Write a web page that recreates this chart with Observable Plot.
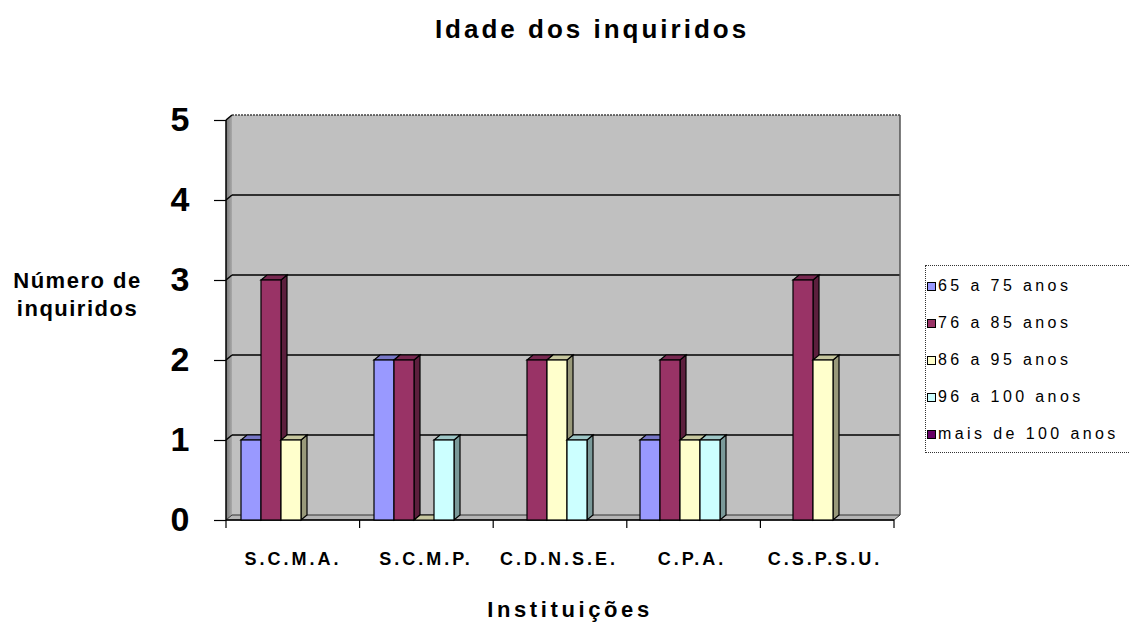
<!DOCTYPE html>
<html><head><meta charset="utf-8">
<script src="https://cdn.jsdelivr.net/npm/d3@7"></script>
<script src="https://cdn.jsdelivr.net/npm/@observablehq/plot@0.6"></script>
<style>
body{margin:0;background:#fff;font-family:"Liberation Sans",Arial,sans-serif;}
#wrap{position:relative;width:1129px;height:628px;overflow:hidden;background:#fff;}
#chart{position:absolute;left:0;top:0;}
.t{position:absolute;white-space:pre;color:#000;}
#title{left:592px;top:16px;transform:translateX(-50%);font-size:26px;line-height:26px;font-weight:bold;letter-spacing:3px;}
#xlabel{left:570px;top:599px;transform:translateX(-50%);font-size:22px;line-height:22px;font-weight:bold;letter-spacing:3.6px;}
#ylabel{left:7px;top:267px;width:141px;text-align:center;font-size:22px;line-height:28px;font-weight:bold;letter-spacing:1.5px;}
#legend{position:absolute;left:925px;top:265px;width:230px;height:188px;box-sizing:border-box;border:1px dotted #333;}
.li{position:absolute;left:0;height:16px;}
.sw{position:absolute;left:1px;width:7px;height:7px;border:1px solid #000;}
.lt{position:absolute;left:12px;font-size:16px;line-height:16px;letter-spacing:3.4px;white-space:pre;}
#chart g[aria-label="fx-axis tick label"] text{letter-spacing:3px;}
</style></head>
<body><div id="wrap">
<div id="chart"></div>
<div class="t" id="title">Idade dos inquiridos</div>
<div class="t" id="ylabel">Número de
inquiridos</div>
<div class="t" id="xlabel">Instituições</div>
<div id="legend"></div>
</div>
<script>
const institutions = ["S.C.M.A.", "S.C.M.P.", "C.D.N.S.E.", "C.P.A.", "C.S.P.S.U."];
const series = ["65 a 75 anos", "76 a 85 anos", "86 a 95 anos", "96 a 100 anos", "mais de 100 anos"];
const colors = ["#9999ff", "#993366", "#ffffcc", "#ccffff", "#660066"];
const v65to75 = [1, 2, null, 1, null];
const v76to85 = [3, 2, 2, 2, 3];
const v86to95 = [1, 0, 2, 1, 2];
const v96to100 = [null, 1, 1, 1, null];
const vOver100 = [null, null, null, null, null];
const yTicks = [0, 1, 2, 3, 4, 5];

const seriesValues = [v65to75, v76to85, v86to95, v96to100, vOver100];
const data = [];
institutions.forEach((inst, i) => {
  series.forEach((s, j) => {
    const v = seriesValues[j][i];
    if (v != null) data.push({inst, series: s, value: v});
  });
});

const W = 1129, H = 628, ML = 224, MR = 237, MT = 120, MB = 108;
const DX = 6, DY = -5;
const shade = (c, k) => { const o = d3.rgb(c); return d3.rgb(o.r * k, o.g * k, o.b * k).formatHex(); };
const NS = "http://www.w3.org/2000/svg";
function el(tag, attrs) {
  const e = document.createElementNS(NS, tag);
  for (const k in attrs) if (attrs[k] != null) e.setAttribute(k, attrs[k]);
  return e;
}

function drawBackground(index, scales, values, dims) {
  const y = scales.y;
  const step = (W - ML - MR) / institutions.length;
  const bounds = institutions.map((d, i) => ML + i * step);
  bounds.push(W - MR);
  const L = bounds[0], R = bounds[bounds.length - 1];
  const y0 = y(0), y5 = y(5);
  const g = el("g", {});
  const defs = el("defs", {});
  const grad = el("linearGradient", {id: "lw", x1: "0", x2: "1", y1: "0", y2: "0"});
  grad.appendChild(el("stop", {offset: "0", "stop-color": "#7a7a7a"}));
  grad.appendChild(el("stop", {offset: "1", "stop-color": "#a8a8a8"}));
  defs.appendChild(grad);
  g.appendChild(defs);
  g.appendChild(el("rect", {x: L + DX, y: y5 + DY, width: R - L, height: y0 - y5, fill: "#c0c0c0"}));
  g.appendChild(el("polygon", {points: `${L},${y5} ${L + DX},${y5 + DY} ${L + DX},${y0 + DY} ${L},${y0}`, fill: "url(#lw)"}));
  g.appendChild(el("polygon", {points: `${L},${y0} ${R},${y0} ${R + DX},${y0 + DY} ${L + DX},${y0 + DY}`, fill: "#b4b4b4", stroke: "#333", "stroke-width": 1}));
  for (const v of yTicks.slice(1)) {
    const yy = y(v);
    g.appendChild(el("line", {x1: L + DX, x2: R + DX, y1: yy + DY, y2: yy + DY, stroke: v === 5 ? "#444" : "#000", "stroke-width": v === 5 ? 1.5 : 1.6, "stroke-dasharray": v === 5 ? "2,1" : null}));
    g.appendChild(el("line", {x1: L, x2: L + DX, y1: yy, y2: yy + DY, stroke: "#000", "stroke-width": 1.5}));
  }
  g.appendChild(el("line", {x1: R + DX, x2: R + DX, y1: y5 + DY, y2: y0 + DY, stroke: "#555", "stroke-width": 1.5}));
  g.appendChild(el("line", {x1: L, x2: L, y1: y5, y2: y0, stroke: "#000", "stroke-width": 1.5}));
  g.appendChild(el("line", {x1: L, x2: R, y1: y0, y2: y0, stroke: "#000", "stroke-width": 1.5}));
  for (const b of bounds) {
    g.appendChild(el("line", {x1: b, x2: b, y1: y0, y2: y0 + 8, stroke: "#000", "stroke-width": 1.2}));
  }
  return g;
}

const background = Plot.ruleY([0], {fx: () => institutions[0], y: d => d, render: drawBackground});

const bars = Plot.barY(data, {
  fx: "inst", x: "series", y: "value", fill: "series", stroke: "#000", strokeWidth: 1.2,
  render(index, scales, values, dims, ctx, next) {
    const g = next(index, scales, values, dims, ctx);
    for (const rect of Array.from(g.querySelectorAll("rect"))) {
      const x = +rect.getAttribute("x"), yy = +rect.getAttribute("y");
      const w = +rect.getAttribute("width"), h = +rect.getAttribute("height");
      const fill = rect.getAttribute("fill") || "#999";
      const side = el("polygon", {points: `${x + w},${yy} ${x + w + DX},${yy + DY} ${x + w + DX},${yy + h + DY} ${x + w},${yy + h}`, fill: shade(fill, 0.6)});
      const top = el("polygon", {points: `${x},${yy} ${x + DX},${yy + DY} ${x + w + DX},${yy + DY} ${x + w},${yy}`, fill: shade(fill, 0.78)});
      g.insertBefore(side, rect);
      g.insertBefore(top, rect);
    }
    return g;
  }
});

const chart = Plot.plot({
  width: W, height: H,
  marginLeft: ML, marginRight: MR, marginTop: MT, marginBottom: MB,
  style: {fontFamily: "'Liberation Sans', Arial, sans-serif", background: "transparent", overflow: "visible", color: "#000"},
  fx: {domain: institutions, padding: 0, label: null},
  x: {domain: series, paddingInner: 0, paddingOuter: 0.76, align: 0.46, axis: null},
  y: {domain: [0, 5], label: null},
  color: {domain: series, range: colors},
  marks: [
    background,
    bars,
    Plot.axisY(yTicks, {tickSize: 12, tickPadding: 25, fontSize: 34, fontWeight: "bold", label: null, strokeWidth: 1.2, tickFormat: d => String(d)}),
    Plot.axisFx({anchor: "bottom", tickSize: 0, tickPadding: 32, fontSize: 18, fontWeight: "bold", label: null})
  ]
});
document.getElementById("chart").appendChild(chart);

const legend = document.getElementById("legend");
const rowCenters = [20, 57, 94, 131, 168];
series.forEach((s, i) => {
  const item = document.createElement("div");
  item.className = "li";
  item.style.top = (rowCenters[i] - 8) + "px";
  const sw = document.createElement("div");
  sw.className = "sw";
  sw.style.top = "4px";
  sw.style.background = colors[i];
  const t = document.createElement("div");
  t.className = "lt";
  t.style.top = "0px";
  t.textContent = s;
  item.appendChild(sw);
  item.appendChild(t);
  legend.appendChild(item);
});
</script>
</body></html>
